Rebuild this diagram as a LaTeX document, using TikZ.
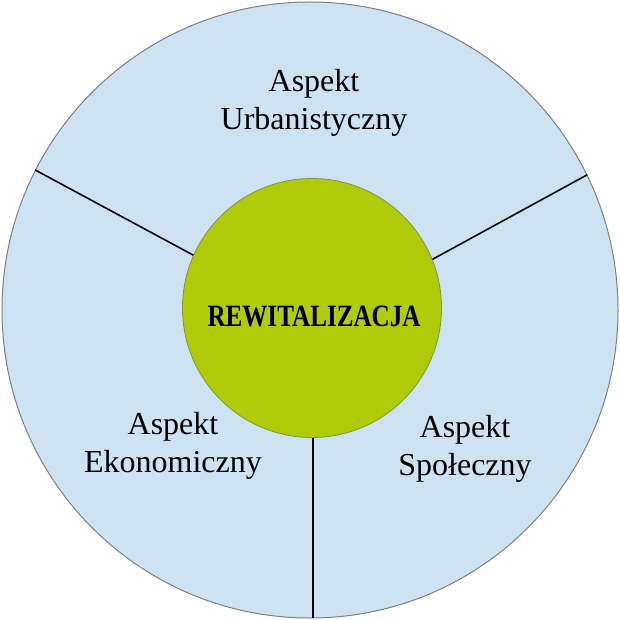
\documentclass[tikz,border=0pt]{standalone}
\usepackage{fontspec}
\setmainfont{Liberation Serif}
\newfontfamily\rewfont[FakeStretch=0.81]{Liberation Serif}
\definecolor{ringblue}{RGB}{206,227,242}
\definecolor{ringedge}{RGB}{128,128,128}
\definecolor{coregreen}{RGB}{175,203,10}
\definecolor{coreedge}{RGB}{130,150,60}
\tikzset{
  ring/.style={circle, draw=ringedge, line width=1pt, fill=ringblue, inner sep=0pt},
  core/.style={circle, draw=coreedge, line width=0.8pt, fill=coregreen, inner sep=0pt},
  divider/.style={draw=black, line width=1.6pt},
  aspect/.style={align=center, font=\fontsize{32}{38}\selectfont, inner sep=0pt},
  corelabel/.style={font=\rewfont\bfseries\fontsize{31}{36}\selectfont, inner sep=0pt}
}
\begin{document}
\begin{tikzpicture}[x=1pt,y=-1pt]
\useasboundingbox (0,0) rectangle (620,620);
\node[ring, minimum size=616pt] (outer) at (310,310) {};
\node[core, minimum size=259pt] (core) at (312,308) {};
\coordinate (bottomcore) at (313,437.5);
\coordinate (bottomouter) at (313,618);
\draw[divider] (core.156.4) -- (outer.153.4);
\draw[divider] (core.22.9) -- (outer.26);
\draw[divider] (bottomcore) -- (bottomouter);
\node[corelabel, anchor=base] (rew) at (314,326) {REWITALIZACJA};
\node[aspect, anchor=base] (urb) at (314,130) {Aspekt\\Urbanistyczny};
\node[aspect, anchor=base] (eko) at (173,472) {Aspekt\\Ekonomiczny};
\node[aspect, anchor=base] (spo) at (465,475) {Aspekt\\Społeczny};
\end{tikzpicture}
\end{document}
